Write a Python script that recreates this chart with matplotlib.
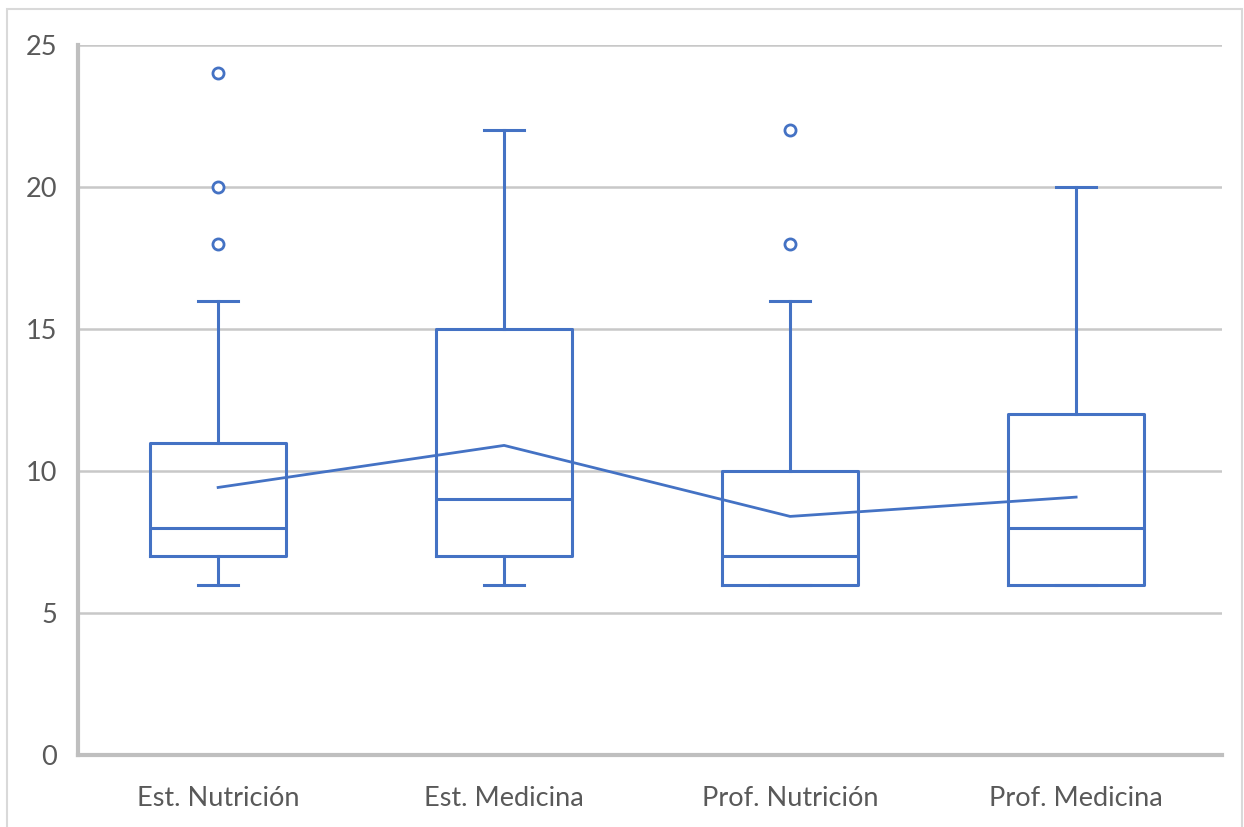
import matplotlib.pyplot as plt
from matplotlib.patches import Rectangle

categories = ["Est. Nutrición", "Est. Medicina", "Prof. Nutrición", "Prof. Medicina"]
whisker_low = [6, 6, 6, 6]
q1 = [7, 7, 6, 6]
medians = [8, 9, 7, 8]
q3 = [11, 15, 10, 12]
whisker_high = [16, 22, 16, 20]
means = [9.42, 10.9, 8.4, 9.08]
outliers = [[18, 20, 24], [], [18, 22], []]

BLUE = "#4472C4"
GRID = "#C8C8C8"
AXIS = "#BFBFBF"
TEXT = "#595959"

plt.rcParams["font.family"] = ["Lato", "DejaVu Sans"]

fig = plt.figure(figsize=(12.44, 8.27), dpi=100)
ax = fig.add_axes([0.0627, 0.0871, 0.9196, 0.8585])

stats = []
for i, name in enumerate(categories):
    stats.append({
        "label": name,
        "whislo": whisker_low[i],
        "q1": q1[i],
        "med": medians[i],
        "q3": q3[i],
        "whishi": whisker_high[i],
        "fliers": outliers[i],
    })

# category centres sit a hair left of the slot middle in the original
positions = [0.49 + i for i in range(len(categories))]
ax.bxp(
    stats,
    positions=positions,
    widths=0.476,
    showfliers=True,
    boxprops=dict(color=BLUE, linewidth=2.2),
    medianprops=dict(color=BLUE, linewidth=2.2),
    whiskerprops=dict(color=BLUE, linewidth=2.2),
    capprops=dict(color=BLUE, linewidth=2.2),
    capwidths=0.14,
    flierprops=dict(marker="o", markersize=8, markerfacecolor="white",
                    markeredgecolor=BLUE, markeredgewidth=2),
    zorder=3,
)
ax.plot(positions, means, color=BLUE, linewidth=2, zorder=3)

ax.set_xlim(0, len(categories))
ax.set_ylim(0, 25)
ax.set_yticks([0, 5, 10, 15, 20, 25])
ax.set_xticks(positions)
ax.set_xticklabels(categories)
ax.yaxis.grid(True, color=GRID, linewidth=1.8)
ax.set_axisbelow(True)

for side in ["top", "right"]:
    ax.spines[side].set_visible(False)
for side in ["left", "bottom"]:
    ax.spines[side].set_color(AXIS)
    ax.spines[side].set_linewidth(3)
ax.tick_params(axis="both", length=0, labelsize=19.5, colors=TEXT)
ax.tick_params(axis="y", pad=15)
ax.tick_params(axis="x", pad=22)

fig.add_artist(Rectangle((7 / 1244, -0.01), 1235 / 1244, 1 - 9 / 827 + 0.01,
                         transform=fig.transFigure, fill=False,
                         edgecolor="#D9D9D9", linewidth=1.5))

fig.savefig("out.png", dpi=100)
